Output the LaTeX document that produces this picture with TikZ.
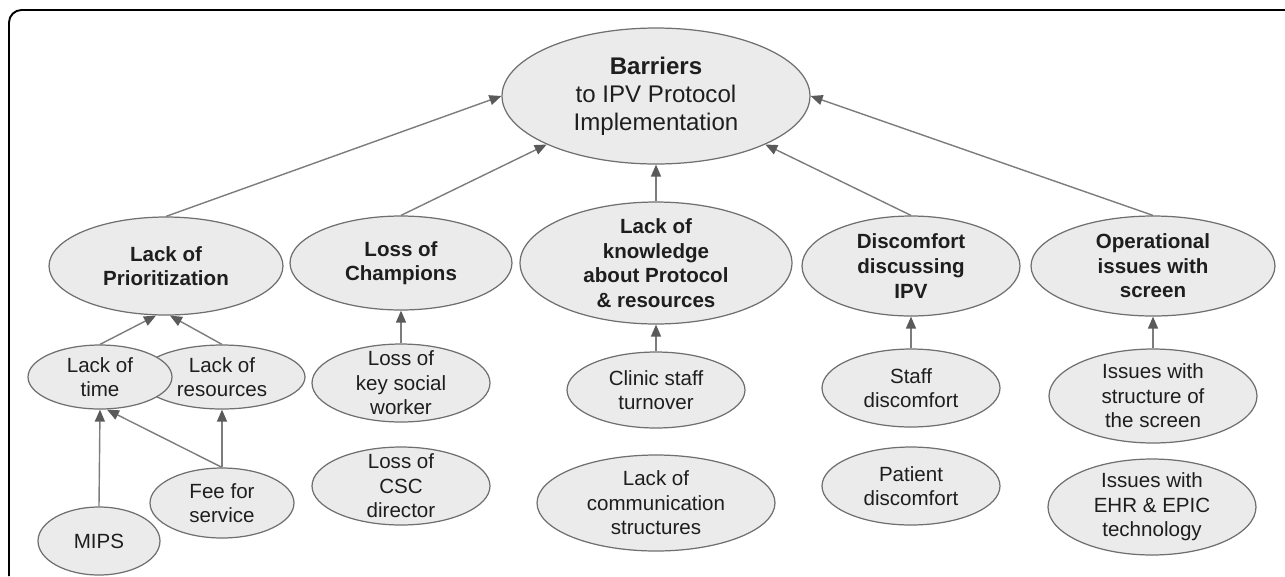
\documentclass[tikz,border=0pt]{standalone}
\usepackage{fontspec}
\setmainfont{Liberation Sans}
\usepackage{xcolor}
\definecolor{bubblefill}{HTML}{EBEBEB}
\definecolor{bubbleline}{HTML}{6F6F6F}
\definecolor{linkline}{HTML}{7C7C7C}
\definecolor{linktip}{HTML}{5A5A5A}
\definecolor{inktext}{HTML}{1E1E1E}
\usetikzlibrary{shapes.geometric,arrows.meta,calc}

\begin{document}
\begin{tikzpicture}[x=0.02cm, y=-0.02cm,
  bubble/.style={ellipse, draw=bubbleline, fill=bubblefill, line width=0.7pt,
    inner sep=-5pt, align=center, text=inktext, font=\fontsize{11.7}{14}\selectfont},
  topic/.style={bubble, font=\fontsize{11.7}{14}\selectfont\bfseries},
  link/.style={draw=linkline, line width=0.8pt,
    -{Triangle[length=2.4mm, width=2mm, color=linktip]}}]
  \useasboundingbox (0,0) rectangle (1285,576);
  \draw[line width=1.1pt, rounded corners=0.25cm] (9,576) -- (9,10) -- (1285,10);

  % root
  \node[bubble, minimum width=6.16cm, minimum height=2.72cm,
        font=\fontsize{13.7}{16}\selectfont] (barriers) at (656,96)
       {\textbf{Barriers}\\to IPV Protocol\\Implementation};

  % main barriers
  \node[topic, minimum width=4.68cm, minimum height=1.96cm] (prio) at (166,266) {Lack of\\Prioritization};
  \node[topic, minimum width=4.44cm, minimum height=1.88cm] (champ) at (401,263) {Loss of\\Champions};
  \node[topic, minimum width=5.44cm, minimum height=2.44cm] (know) at (656,263) {Lack of\\knowledge\\about Protocol\\\& resources};
  \node[topic, minimum width=4.36cm, minimum height=2.0cm] (discuss) at (911,266) {Discomfort\\discussing\\IPV};
  \node[topic, minimum width=4.88cm, minimum height=2.0cm] (oper) at (1153,266) {Operational\\issues with\\screen};

  % causes
  \node[bubble, minimum width=3.32cm, minimum height=1.28cm] (resources) at (222,377) {Lack of\\resources};
  \node[bubble, minimum width=2.88cm, minimum height=1.28cm] (time) at (100,377) {Lack of\\time};
  \node[bubble, minimum width=2.88cm, minimum height=1.40cm] (fee) at (222,503) {Fee for\\service};
  \node[bubble, minimum width=2.44cm, minimum height=1.36cm] (mips) at (99,541) {MIPS};
  \node[bubble, minimum width=3.56cm, minimum height=1.56cm] (keysw) at (401,383) {Loss of\\key social\\worker};
  \node[bubble, minimum width=3.56cm, minimum height=1.56cm] (csc) at (401,486) {Loss of\\CSC\\director};
  \node[bubble, minimum width=3.56cm, minimum height=1.52cm] (clinic) at (656,390) {Clinic staff\\turnover};
  \node[bubble, minimum width=4.76cm, minimum height=1.92cm] (comm) at (656,503) {Lack of\\communication\\structures};
  \node[bubble, minimum width=3.56cm, minimum height=1.56cm] (staff) at (911,388) {Staff\\discomfort};
  \node[bubble, minimum width=3.56cm, minimum height=1.56cm] (patient) at (911,486) {Patient\\discomfort};
  \node[bubble, minimum width=4.16cm, minimum height=1.88cm] (struct) at (1153,396) {Issues with\\structure of\\the screen};
  \node[bubble, minimum width=4.16cm, minimum height=1.92cm] (ehr) at (1152,507) {Issues with\\EHR \& EPIC\\technology};

  % links to root
  \draw[link] (prio.north) -- (barriers.west);
  \draw[link] (champ.north) -- (barriers.south west);
  \draw[link] (know.north) -- (barriers.south);
  \draw[link] (discuss.north) -- (barriers.south east);
  \draw[link] (oper.north) -- (barriers.east);

  % links to main barriers
  \draw[link] (time.north) -- ($(prio.south)+(-10,0)$);
  \draw[link] (resources.north) -- ($(prio.south)+(4,0)$);
  \draw[link] (mips.north) -- (time.south);
  \draw[link] (fee.north) -- ($(time.south)+(7,0)$);
  \draw[link] (fee.north) -- (resources.south);
  \draw[link] (keysw.north) -- (champ.south);
  \draw[link] (clinic.north) -- (know.south);
  \draw[link] (staff.north) -- (discuss.south);
  \draw[link] (struct.north) -- (oper.south);
\end{tikzpicture}
\end{document}
